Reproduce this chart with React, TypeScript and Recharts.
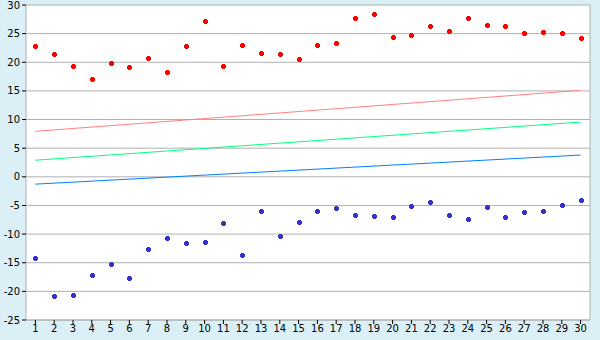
import React from 'react';
import { ComposedChart, Line, XAxis, YAxis, CartesianGrid } from 'recharts';

const categories = ['1','2','3','4','5','6','7','8','9','10','11','12','13','14','15','16','17','18','19','20','21','22','23','24','25','26','27','28','29','30'];
const highValues = [22.8,21.4,19.3,17.1,19.9,19.2,20.7,18.3,22.8,27.2,19.3,23.0,21.6,21.4,20.6,23.0,23.4,27.7,28.4,24.4,24.8,26.3,25.5,27.7,26.5,26.3,25.1,25.3,25.1,24.2];
const lowValues = [-14.2,-20.8,-20.6,-17.2,-15.2,-17.7,-12.6,-10.7,-11.6,-11.4,-8.1,-13.7,-6.0,-10.3,-7.9,-6.0,-5.5,-6.7,-6.8,-7.0,-5.1,-4.4,-6.7,-7.4,-5.3,-7.0,-6.1,-6.0,-4.9,-4.1];
const trendHighEnds = [7.95, 15.1];
const trendMidEnds = [2.9, 9.55];
const trendLowEnds = [-1.28, 3.8];
const yTicks = [-25,-20,-15,-10,-5,0,5,10,15,20,25,30];

const data = categories.map((c, i) => ({
  cat: c,
  high: highValues[i],
  low: lowValues[i],
  tHigh: i === 0 ? trendHighEnds[0] : i === categories.length - 1 ? trendHighEnds[1] : null,
  tMid: i === 0 ? trendMidEnds[0] : i === categories.length - 1 ? trendMidEnds[1] : null,
  tLow: i === 0 ? trendLowEnds[0] : i === categories.length - 1 ? trendLowEnds[1] : null,
}));

const makeMarker = (color: string) => (props: any) => {
  const { cx, cy, index } = props;
  if (cx == null || cy == null) return <g key={index} />;
  const x = Math.round(cx);
  const y = Math.round(cy);
  return (
    <g key={index} shapeRendering="crispEdges">
      <rect x={x - 2} y={y - 1} width={5} height={3} fill={color} />
      <rect x={x - 1} y={y - 2} width={3} height={5} fill={color} />
    </g>
  );
};

const tickStyle = { fontSize: 10, fontFamily: 'DejaVu Sans, Verdana, sans-serif', fill: '#000' };

export default function App() {
  return (
    <div style={{ position: 'absolute', left: 0, top: 0, width: 600, height: 340, background: '#daf0f6' }}>
      <ComposedChart width={600} height={340} data={data} margin={{ top: 5, right: 5, left: 0, bottom: 0 }}>
        <CartesianGrid vertical={false} stroke="#b0b0b0" fill="#ffffff" fillOpacity={1} yAxisId="left" />
        <XAxis
          dataKey="cat"
          scale="band"
          height={20}
          tick={tickStyle}
          tickSize={4}
          tickMargin={1}
          interval={0}
          axisLine={{ stroke: '#b0b0b0' }}
          tickLine={{ stroke: '#000' }}
        />
        <YAxis
          yAxisId="left"
          width={26}
          domain={[-25, 30]}
          ticks={yTicks}
          interval={0}
          tick={tickStyle}
          tickSize={4}
          tickMargin={2}
          axisLine={{ stroke: '#b0b0b0' }}
          tickLine={{ stroke: '#000' }}
          allowDataOverflow
        />
        <YAxis
          yAxisId="right"
          orientation="right"
          width={5}
          domain={[-25, 30]}
          tick={false}
          tickLine={false}
          axisLine={{ stroke: '#b0b0b0' }}
        />
        <Line yAxisId="left" dataKey="tHigh" stroke="#ff8080" strokeWidth={1} dot={false} activeDot={false} connectNulls isAnimationActive={false} />
        <Line yAxisId="left" dataKey="tMid" stroke="#00ff80" strokeWidth={1} dot={false} activeDot={false} connectNulls isAnimationActive={false} />
        <Line yAxisId="left" dataKey="tLow" stroke="#0080ff" strokeWidth={1} dot={false} activeDot={false} connectNulls isAnimationActive={false} />
        <Line yAxisId="left" dataKey="high" stroke="none" dot={makeMarker('#ff0000')} activeDot={false} isAnimationActive={false} />
        <Line yAxisId="left" dataKey="low" stroke="none" dot={makeMarker('#3333cc')} activeDot={false} isAnimationActive={false} />
      </ComposedChart>
    </div>
  );
}
